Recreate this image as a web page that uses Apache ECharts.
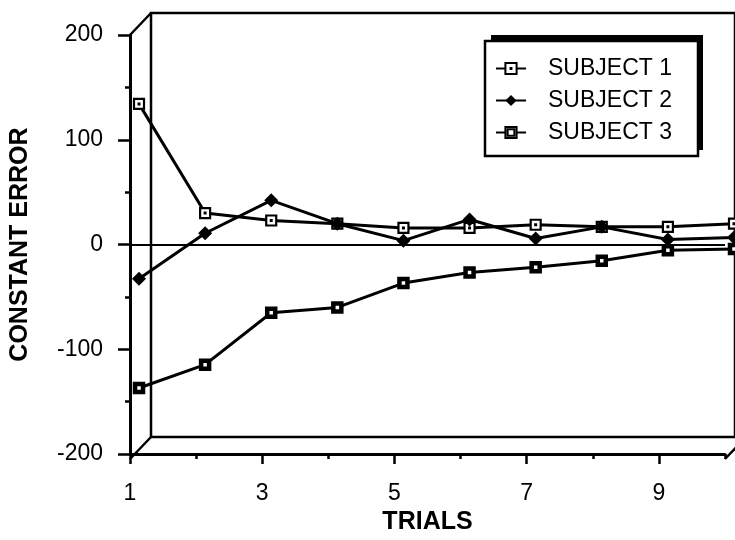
<!DOCTYPE html>
<html>
<head>
<meta charset="utf-8">
<script src="https://cdn.jsdelivr.net/npm/echarts@6/dist/echarts.min.js"></script>
<style>
  html, body { margin: 0; padding: 0; background: #fff; }
  #chart { width: 735px; height: 540px; }
</style>
</head>
<body>
<div id="chart"></div>
<script>
// Constant error per trial for each subject
const trials = [1, 2, 3, 4, 5, 6, 7, 8, 9, 10];
const subject1 = [135, 32, 25, 22, 18, 18, 21, 19, 19, 22];
const subject2 = [-30, 13, 44, 22, 6, 26, 8, 19, 7, 9];
const subject3 = [-133, -111, -62, -57, -34, -24, -19, -13, -3, -2];
const seriesNames = ['SUBJECT 1', 'SUBJECT 2', 'SUBJECT 3'];
const xLabelTicks = [1, 3, 5, 7, 9];
const xMinorTicks = [2, 4, 6, 8, 10];

// Box geometry: front plane, depth shift of the back wall, depth shift of the data plane
const L = 130, T = 35, W = 595, H = 424;
const DX = 21, DY = -22;
const PX = 9;
const FONT = 'Liberation Sans';
const INK = '#000';

// Legend box layout (fixed text width keeps the box size known for its drop shadow)
const LEG = { left: 485, top: 41, pad: [16, 20, 12, 10], iconW: 30, iconH: 14, gap: 9, textPadL: 17, textW: 130, rowH: 23 };
LEG.width = LEG.pad[3] + LEG.iconW + 5 + LEG.textPadL + LEG.textW + LEG.pad[1];
LEG.height = LEG.pad[0] + 3 * LEG.rowH + 2 * LEG.gap + LEG.pad[2];
const SHADOW = 6;

// Marker outlines: open square with a centre dot, and a heavy square with a small white core
const DOT_SQUARE = 'path://M0,0H10V10H0Z M4.6,4.6H5.4V5.4H4.6Z';
const HEAVY_SQUARE = 'path://M0,0H10V10H0Z M2,2H8V8H2Z';

const pairs = (vals) => trials.map((t, i) => [t, vals[i]]);
const hiddenX = (grid) => ({ gridIndex: grid, type: 'value', min: 1, max: 10, show: false });
const hiddenY = (grid) => ({ gridIndex: grid, type: 'value', min: -200, max: 200, show: false });

const chart = echarts.init(document.getElementById('chart'), null, { renderer: 'canvas' });

// depth edges joining the front axes to the back wall
const depthEdges = [[L, T], [L, T + H], [L + W, T + H]].map(([x, y]) => ({
  type: 'line', silent: true,
  shape: { x1: x, y1: y, x2: x + DX, y2: y + DY },
  style: { stroke: INK, lineWidth: 2.5 }
}));

chart.setOption({
  animation: false,
  backgroundColor: '#fff',
  grid: [
    { left: L, top: T, width: W, height: H, containLabel: false },
    { left: L + DX, top: T + DY, width: W, height: H, show: true,
      borderColor: INK, borderWidth: 2.5, backgroundColor: 'transparent' },
    { left: L + PX, top: T, width: W, height: H }
  ],
  xAxis: [
    {
      gridIndex: 0, type: 'value', min: 1, max: 10, interval: 1,
      axisLine: { show: true, onZero: false, lineStyle: { color: INK, width: 3 } },
      axisTick: { show: true, customValues: xLabelTicks, length: 10, lineStyle: { color: INK, width: 2.5 } },
      axisLabel: { customValues: xLabelTicks, margin: 28, color: INK, fontFamily: FONT, fontSize: 23 },
      splitLine: { show: false },
      name: 'TRIALS', nameLocation: 'middle', nameGap: 53,
      nameTextStyle: { color: INK, fontFamily: FONT, fontSize: 25, fontWeight: 'bold' }
    },
    {
      gridIndex: 0, type: 'value', position: 'bottom', min: 1, max: 10, interval: 1,
      axisLine: { show: false, onZero: false },
      axisTick: { show: true, customValues: xMinorTicks, length: 5, lineStyle: { color: INK, width: 2.5 } },
      axisLabel: { show: false },
      splitLine: { show: false }
    },
    hiddenX(1),
    hiddenX(2)
  ],
  yAxis: [
    {
      gridIndex: 0, type: 'value', min: -200, max: 200, interval: 100,
      axisLine: { show: true, onZero: false, lineStyle: { color: INK, width: 3 } },
      axisTick: { show: true, length: 12, lineStyle: { color: INK, width: 2.5 } },
      minorTick: { show: true, splitNumber: 2, length: 5, lineStyle: { color: INK, width: 2.5 } },
      axisLabel: { margin: 27, color: INK, fontFamily: FONT, fontSize: 23 },
      // only the zero line is drawn across the plot
      splitLine: { show: true, lineStyle: { width: 2, color: ['rgba(0,0,0,0)', 'rgba(0,0,0,0)', INK, 'rgba(0,0,0,0)', 'rgba(0,0,0,0)'] } },
      name: 'CONSTANT ERROR', nameLocation: 'middle', nameGap: 97,
      nameTextStyle: { color: INK, fontFamily: FONT, fontSize: 25, fontWeight: 'bold' }
    },
    hiddenY(1),
    hiddenY(2)
  ],
  legend: {
    left: LEG.left, top: LEG.top, orient: 'vertical',
    data: seriesNames,
    selectedMode: false,
    itemWidth: LEG.iconW, itemHeight: LEG.iconH, itemGap: LEG.gap,
    padding: LEG.pad,
    backgroundColor: '#fff', borderColor: INK, borderWidth: 2.5, borderRadius: 0,
    textStyle: { color: INK, fontFamily: FONT, fontSize: 23, lineHeight: LEG.rowH,
      width: LEG.textW, overflow: 'none', padding: [0, 0, 0, LEG.textPadL] }
  },
  series: [
    {
      name: 'SUBJECT 1', type: 'line', xAxisIndex: 3, yAxisIndex: 2,
      data: pairs(subject1),
      symbol: DOT_SQUARE, symbolSize: 10,
      lineStyle: { color: INK, width: 3 },
      itemStyle: { color: '#fff', borderColor: INK, borderWidth: 2.2 },
      z: 3
    },
    {
      name: 'SUBJECT 3', type: 'line', xAxisIndex: 3, yAxisIndex: 2,
      data: pairs(subject3),
      symbol: HEAVY_SQUARE, symbolSize: 10,
      lineStyle: { color: INK, width: 3 },
      itemStyle: { color: '#fff', borderColor: INK, borderWidth: 2.5 },
      z: 3
    },
    {
      name: 'SUBJECT 2', type: 'line', xAxisIndex: 3, yAxisIndex: 2,
      data: pairs(subject2),
      symbol: 'diamond', symbolSize: 14,
      lineStyle: { color: INK, width: 3 },
      itemStyle: { color: INK },
      z: 4
    }
  ],
  graphic: depthEdges.concat([{
    // solid drop shadow behind the legend box
    type: 'rect', silent: true, z: 0,
    shape: { x: LEG.left + SHADOW, y: LEG.top - SHADOW, width: LEG.width, height: LEG.height },
    style: { fill: INK }
  }])
});
</script>
</body>
</html>
